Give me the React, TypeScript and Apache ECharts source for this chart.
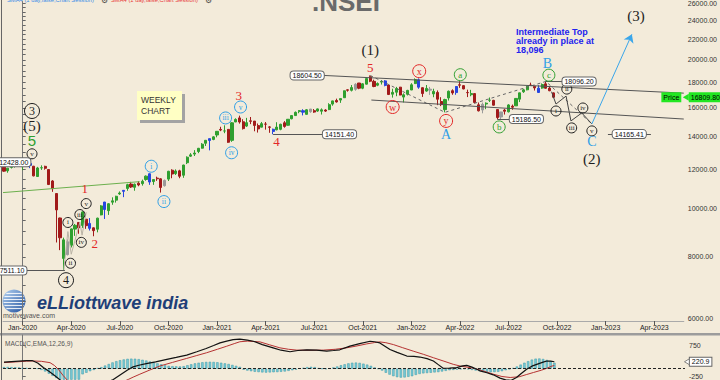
import React, { useEffect, useRef } from "react";
import * as echarts from "echarts";

// ---------------- DATA ----------------
// Weekly NIFTY candles. Row 0 = week of 2 Dec 2019 (week index -5; week 0 = 6 Jan 2020)
const FIRST_WEEK = -5;
// [open, close, low, high]
const candles: number[][] = [
  [12137, 11922, 11888, 12159], [11939, 12087, 11832, 12098], [12131, 12272, 12067, 12294], [12235, 12246, 12118, 12287],
  [12274, 12226, 12178, 12293], [12170, 12257, 11975, 12311], [12296, 12352, 12213, 12389], [12357, 12248, 12087, 12430],
  [12197, 11662, 11633, 12216], [11627, 12098, 11614, 12160], [12102, 12113, 11990, 12247], [12190, 12080, 12003, 12225],
  [12012, 11202, 11175, 12012], [11388, 10989, 10827, 11433], [10742, 9955, 8555, 10751], [9587, 8745, 8255, 9602],
  [7945, 8660, 7511, 8749], [8584, 8084, 8055, 8679], [8446, 9112, 8360, 9131], [9103, 9267, 8821, 9324],
  [9390, 9154, 8909, 9390], [9259, 9860, 9155, 9889], [9533, 9251, 9116, 9533], [9348, 9136, 9044, 9584],
  [9158, 9039, 8806, 9178], [9099, 9580, 8968, 9599], [9726, 10142, 9706, 10180], [10326, 9972, 9544, 10329],
  [9919, 10244, 9726, 10272], [10319, 10383, 10194, 10553], [10417, 10607, 10299, 10631], [10723, 10768, 10677, 10847],
  [10851, 10902, 10562, 10918], [10999, 11194, 10880, 11240], [11225, 11073, 11026, 11341], [11058, 11214, 10882, 11256],
  [11270, 11178, 11112, 11373], [11248, 11372, 11144, 11460], [11466, 11647, 11401, 11687], [11777, 11333, 11185, 11794],
  [11359, 11464, 11185, 11493], [11540, 11505, 11394, 11618], [11503, 11050, 10790, 11535], [11140, 11417, 11095, 11465],
  [11487, 11914, 11386, 11938], [11973, 11762, 11535, 12025], [11785, 11930, 11711, 12018], [11937, 11642, 11535, 11998],
  [11697, 12264, 11557, 12280], [12399, 12720, 12321, 12770], [12780, 12859, 12731, 12963], [12906, 12969, 12790, 13145],
  [13062, 13258, 12962, 13280], [13264, 13514, 13241, 13579], [13571, 13761, 13402, 13773], [13866, 13749, 13131, 13865],
  [13815, 13982, 13765, 14024], [14104, 14347, 13954, 14367], [14474, 14433, 14357, 14653], [14371, 14372, 14222, 14754],
  [14477, 13635, 13597, 14492], [13758, 14924, 13662, 14976], [14983, 15163, 14977, 15243], [15271, 14982, 14868, 15432],
  [14999, 14529, 14467, 15176], [14702, 14938, 14636, 15273], [15064, 15031, 14835, 15336], [15048, 14744, 14350, 15052],
  [14737, 14507, 14264, 14878], [14628, 14867, 14617, 14984], [14837, 14835, 14459, 14980], [14644, 14618, 14248, 14697],
  [14484, 14341, 14151, 14529], [14449, 14631, 14415, 14968], [14482, 14823, 14417, 14864], [14928, 14678, 14591, 15044],
  [14756, 15175, 14725, 15190], [15211, 15436, 15171, 15469], [15437, 15670, 15437, 15733], [15725, 15799, 15607, 15835],
  [15791, 15683, 15450, 15901], [15525, 15860, 15505, 15915], [15915, 15722, 15636, 15915], [15793, 15690, 15635, 15915],
  [15766, 15924, 15707, 15952], [15755, 15856, 15513, 15962], [15842, 15763, 15705, 15899], [15874, 16238, 15834, 16349],
  [16286, 16529, 16163, 16543], [16563, 16451, 16395, 16702], [16592, 16705, 16376, 16722], [16775, 17324, 16764, 17340],
  [17399, 17369, 17254, 17437], [17363, 17585, 17269, 17793], [17443, 17853, 17327, 17947], [17962, 17532, 17452, 17962],
  [17531, 17895, 17452, 17948], [17867, 18338, 17839, 18350], [18500, 18115, 18033, 18604], [18100, 17672, 17613, 18241],
  [17783, 17917, 17698, 18012], [18041, 18102, 17836, 18210], [18141, 17765, 17688, 18210], [17796, 17027, 16983, 17806],
  [17052, 17197, 16782, 17490], [17209, 17512, 16891, 17640], [17619, 16985, 16966, 17640], [16824, 17004, 16410, 17118],
  [17046, 17354, 16949, 17400], [17387, 17812, 17383, 17944], [17913, 18256, 17879, 18351], [18235, 17617, 17485, 18350],
  [17575, 17102, 16836, 17599], [17301, 17516, 17244, 17794], [17456, 17375, 16993, 17640], [17076, 17276, 16810, 17490],
  [17192, 16659, 16203, 17352], [16481, 16245, 16133, 16815], [15867, 16630, 15671, 16694], [16757, 17287, 16556, 17344],
  [17329, 17153, 17006, 17442], [17181, 17670, 17006, 17703], [17809, 17784, 17559, 18114], [17741, 17476, 17442, 17779],
  [17183, 17172, 16824, 17414], [17009, 17102, 16888, 17400], [17097, 16411, 16341, 17132], [16227, 15782, 15735, 16404],
  [15845, 16266, 15601, 16400], [16290, 16352, 15903, 16415], [16578, 16584, 16444, 16793], [16570, 16202, 16172, 16610],
  [15877, 15294, 15183, 15886], [15335, 15699, 15191, 15707], [15839, 15752, 15511, 15927], [15710, 16220, 15662, 16275],
  [16127, 16049, 15858, 16248], [16151, 16719, 16143, 16752], [16662, 17158, 16438, 17172], [17244, 17398, 17155, 17490],
  [17402, 17698, 17360, 17719], [17797, 17758, 17710, 17992], [17682, 17559, 17345, 17685], [17188, 17539, 17166, 17777],
  [17546, 17833, 17488, 17925], [17890, 17531, 17497, 18096], [17540, 17327, 17291, 17722], [17156, 16810, 16748, 17196],
];
const blueWeeks = [2, 18, 22, 27, 34, 50, 67, 75, 97, 106, 116, 138];
const greyWeeks = [12, 38, 77, 89, 109, 123, 128];

const dateTickWeeks = [0, 13, 26, 39, 52, 65, 78, 91, 104, 117, 130, 143, 156, 169];
const dateTickLabels = ["Jan-2020", "Apr-2020", "Jul-2020", "Oct-2020", "Jan-2021", "Apr-2021", "Jul-2021",
  "Oct-2021", "Jan-2022", "Apr-2022", "Jul-2022", "Oct-2022", "Jan-2023", "Apr-2023"];
const priceLabelValues = [6000, 8000, 10000, 12000, 14000, 16000, 18000, 20000, 22000, 24000, 26000];
const lastPrice = 16809.8;

// MACD(C,EMA,12,26,9): [week, value]
const macdLine: number[][] = [
  [-5, 210], [-3, 225], [-1, 240], [1, 255], [2.5, 262], [4, 180], [5.5, 35], [7, -80], [8.6, -227], [10, -360],
  [12, -700], [14, -850], [16, -800], [18, -720], [20, -600], [22, -470], [24.2, -344], [26, -200], [28, -40],
  [29.5, 57], [31, 110], [33, 161], [35.5, 220], [38.5, 297], [41, 360], [43.8, 435], [46.5, 540], [49, 644],
  [51, 740], [52.7, 823], [54.5, 880], [56.2, 928], [58, 945], [60, 910], [61.6, 877], [64, 770], [66.9, 666],
  [69, 590], [71.4, 540], [73.5, 580], [75.9, 603], [78.5, 590], [81.2, 561], [83, 580], [84.7, 603], [87.4, 719],
  [90, 800], [92.8, 877], [94, 860], [95.4, 823], [98.1, 612], [100, 520], [102.6, 404], [104.5, 390], [106.1, 372],
  [108, 320], [109.7, 246], [111, 130], [112.3, 13], [114, 20], [115.9, 35], [117.5, 90], [118.6, 107], [120, 50],
  [121.3, -19], [122.1, -69], [124, -130], [125.7, -196], [127.5, -303], [129, -360], [130.5, -370], [131.9, -281],
  [133, -170], [134.6, -19], [136, 80], [137.3, 139], [139, 210], [140, 246], [141, 240], [142, 220.9],
];
const signalLine: number[][] = [
  [-5, 195], [-2, 215], [1, 240], [2.8, 246], [5, 235], [7.3, 192], [8.5, 100], [9.5, -19], [10.8, -218], [12, -380],
  [14, -520], [16, -620], [18, -680], [20, -680], [22, -640], [24, -560], [26, -460], [28.2, -344], [29.5, -270],
  [31.3, -176], [34, -40], [36.7, 87], [40, 200], [43.8, 328], [46.5, 420], [49.1, 508], [52, 620], [54.5, 718],
  [56.5, 800], [58, 860], [60, 880], [63.4, 855], [66, 760], [68.7, 666], [71, 620], [73.2, 593], [77, 590],
  [80.3, 593], [83.5, 620], [86.5, 666], [89, 720], [91.9, 792], [94, 835], [95.4, 855], [97, 830], [99, 770],
  [101.5, 670], [104.3, 561], [107, 460], [109.7, 350], [112.5, 240], [115, 139], [117, 80], [119.5, 35], [121, -5],
  [122.1, -40], [124, -110], [125.7, -176], [128, -250], [130.2, -281], [132.6, -259], [134.5, -190], [136.4, -123],
  [138.5, -50], [140, 13], [141.3, 80], [142, 100],
];
// histogram, one value per week from week -5
const macdHist = [
  50, 55, 50, 45, 40,
  30, 25, 20, 15, 5,
  -40, -90, -160, -230, -300,
  -380, -420, -450, -420, -380, -350,
  -180, -130, -80, -40,
  20, 50, 100, 150, 200, 240, 270, 295, 315, 320, 318, 305, 285, 260, 230, 200, 170, 140,
  110, 90, 80, 75, 70, 80, 110,
  140, 170, 190, 205, 215, 220, 215, 205, 190, 170, 150, 120, 90, 60,
  -30, -60, -80, -100, -110, -120, -125, -120, -115, -110, -100, -90, -70, -50, -30,
  10, 30, 50, 60, 50,
  20, 0, -10, 10, 40,
  70, 110, 140, 170, 190, 195, 185, 160, 130, 90,
  40, 0,
  -60, -130, -190, -240, -270, -285, -280, -260, -240, -200, -170, -150, -140, -130, -120,
  -110, -90, -70, -50, -40, -30, -20, -10, -20, -40, -60, -80,
  -100, -110, -115, -110, -100, -80, -50, -20,
  20, 70, 130, 190, 240, 290, 320, 325, 310, 280, 240, 190,
];
const macdLabelValues = [750, -250];
const macdLast = 220.9;

// Elliott wave annotations: [week, price, text]
type Ann = [number, number, string];
const circledPrimary: Ann[] = [[2.5, 15770, "3"], [11.6, 7178, "4"]];
const circledBlack: Ann[] = [[2.5, 12922, "v"], [12.1, 9389, "i"], [12.8, 7766, "ii"], [15.3, 9742, "iii"],
  [15.7, 8559, "iv"], [17.0, 10252, "v"], [142.7, 15770, "i"], [145.6, 17461, "ii"], [146.9, 14576, "iii"],
  [149.9, 15991, "iv"], [152.3, 14375, "v"]];
const circledCyan: Ann[] = [[34.4, 12196, "i"], [37.8, 10348, "ii"], [54.3, 15268, "iii"], [55.9, 12985, "iv"], [58.3, 16065, "v"]];
const circledRed: Ann[] = [[99.0, 16065, "w"], [106.1, 18977, "x"], [113.3, 15057, "y"]];
const circledGreen: Ann[] = [[117.1, 18670, "a"], [127.5, 14643, "b"], [140.8, 18630, "c"]];
const textBlack: Ann[] = [[2.5, 14712, "(5)"], [93.0, 20916, "(1)"], [152.3, 12627, "(2)"], [164.1, 24482, "(3)"]];
const textRed: Ann[] = [[16.6, 10990, "1"], [19.3, 8520, "2"], [57.8, 16983, "3"], [67.9, 13661, "4"], [93.0, 19332, "5"]];
const textCyan: Ann[] = [[113.3, 14113, "A"], [140.4, 19695, "B"], [152.3, 13661, "C"]];
const textGreen: Ann[] = [[2.5, 13725, "5"]];

// price level boxes: [week, price, text, side]
const levelBoxes: [number, number, string, string][] = [
  [2.2, 12430, "12428.00", "left"],
  [1.15, 7511.1, "7511.10", "left"],
  [80.2, 14151.4, "14151.40", "right"],
  [80.7, 18604.5, "18604.50", "left"],
  [130.2, 15186.5, "15186.50", "right"],
  [144.3, 18096.2, "18096.20", "right"],
  [162.3, 14165.41, "14165.41", "inside"],
];
// trend / channel lines: [[week, price], [week, price]]
const solidSegments: number[][][] = [
  [[1.15, 7511.1], [11.3, 7511.1]],
  [[67, 14151.4], [80.2, 14151.4]],
  [[80.7, 18604.5], [176.89, 17134]],
  [[93.3, 16594], [176.89, 15190]],
  [[127, 15186.5], [130.2, 15186.5]],
  [[140, 18096.2], [144.3, 18096.2]],
  [[156.6, 14165.41], [168.1, 14165.41]],
];
// minor wave structure near the 2020 low (thin grey)
const minorWavePath: number[][] = [[11, 7511], [12.1, 9000], [13, 8100], [15.3, 9400], [15.9, 8850], [17.0, 9850]];
const projectionPath: number[][] = [[141.5, 17250], [142.7, 16289], [145.4, 16902], [146.7, 15057], [149.6, 15626], [152.3, 14849]];
const dashedPath: number[][] = [[93, 18604.5], [113, 15671], [140, 18096.2], [152.3, 14849]];
const greenTrend: number[][] = [[-5.26, 10789], [31.3, 11352]];
const cyanArrow: number[][] = [[152.3, 14849], [163.0, 22523]];

// ---------------- STYLE ----------------
const BG = "#F3EBDA";
const SERIF = "Liberation Serif";
const SANS = "Liberation Sans";
const UP = "#2f9f2f";
const DOWN = "#a11a1a";
const BLUE = "#2746e0";
const GREY = "#9a9a9a";
const CYAN = "#2f9fe6";
const RED = "#e32727";
const GREEN = "#2f9f2f";
const BLACK = "#1e1e1e";
const X_MIN = -5.262;
const X_MAX = 176.9;
const Y_MIN = 8.689;
const Y_MAX = 10.1751;
const ln = Math.log;

function buildOption(): any {
  const candleData = candles.map((c, i) => {
    const w = FIRST_WEEK + i;
    const item: any = { value: [w, ln(c[0]), ln(c[1]), ln(c[2]), ln(c[3])] };
    const col = blueWeeks.includes(w) ? BLUE : greyWeeks.includes(w) ? GREY : null;
    if (col) item.itemStyle = { color: col, color0: col, borderColor: col, borderColor0: col };
    return item;
  });

  const minorTicks: number[] = [];
  for (let v = 6000; v <= 26000; v += 500) minorTicks.push(ln(v));

  const circle = (a: Ann, color: string, r: number, fs: number) => ({
    coord: [a[0], ln(a[1])],
    symbol: "circle",
    symbolSize: r * 2,
    itemStyle: { color: "rgba(0,0,0,0)", borderColor: color, borderWidth: 1 },
    label: { show: true, position: "inside", formatter: a[2], color, fontSize: fs, fontFamily: SERIF },
  });
  const txt = (a: Ann, color: string, fs: number, family = SERIF) => ({
    coord: [a[0], ln(a[1])],
    symbol: "circle",
    symbolSize: 1,
    itemStyle: { color: "rgba(0,0,0,0)" },
    label: { show: true, position: "inside", formatter: a[2], color, fontSize: fs, fontFamily: family, lineHeight: fs },
  });
  const box = (b: [number, number, string, string]) => ({
    coord: [b[0], ln(b[1])],
    symbol: "circle",
    symbolSize: 1,
    itemStyle: { color: "rgba(0,0,0,0)" },
    label: {
      show: true, position: b[3], distance: 0, formatter: b[2], color: "#111", fontSize: 7, fontFamily: SANS,
      backgroundColor: "#ffffff", borderColor: "#666", borderWidth: 1, borderRadius: 3, padding: [1, 2, 0, 2],
    },
  });

  const markPoints = [
    ...circledPrimary.map((a) => circle(a, BLACK, 7.5, 12)),
    ...circledBlack.map((a) => circle(a, BLACK, 5, 7)),
    ...circledCyan.map((a) => circle(a, CYAN, 6, 7.5)),
    ...circledRed.map((a) => circle(a, RED, 6.5, 10)),
    ...circledGreen.map((a) => circle(a, GREEN, 6, 9)),
    ...textBlack.map((a) => txt(a, BLACK, 15)),
    ...textRed.map((a) => txt(a, RED, 13)),
    ...textCyan.map((a) => txt(a, CYAN, 14)),
    ...textGreen.map((a) => txt(a, GREEN, 15, SANS)),
    ...levelBoxes.map(box),
    {
      coord: [X_MAX - 0.001, ln(lastPrice)],
      symbol: "triangle", symbolSize: [7, 6], symbolRotate: 90, symbolOffset: [2, 0],
      itemStyle: { color: "#22e622" },
      label: { show: true, position: "right", distance: 0, formatter: lastPrice.toFixed(2), color: "#000", fontSize: 7, fontFamily: SANS,
        backgroundColor: "#22e622", padding: [2, 2, 1, 2] },
    },
    {
      coord: [X_MAX - 0.001, ln(lastPrice)],
      symbol: "circle", symbolSize: 1, itemStyle: { color: "rgba(0,0,0,0)" },
      label: { show: true, position: "left", distance: 2, formatter: "Price", color: "#000", fontSize: 7, fontFamily: SANS,
        backgroundColor: "#22e622", padding: [2, 2, 1, 2] },
    },
  ];

  const segLines = solidSegments.map((s) => [
    { coord: [s[0][0], ln(s[0][1])], lineStyle: { color: "#555", width: 1, type: "solid" } },
    { coord: [s[1][0], ln(s[1][1])] },
  ]);

  const toLn = (pts: number[][]) => pts.map((p) => [p[0], ln(p[1])]);

  return {
    animation: false,
    backgroundColor: BG,
    grid: [
      { left: 3, right: 35, top: 0, height: 321 },
      { left: 3, right: 35, top: 335, height: 45 },
    ],
    xAxis: [
      {
        type: "value", gridIndex: 0, min: X_MIN, max: X_MAX,
        axisLine: { show: true, lineStyle: { color: "#aaa", width: 1 } },
        axisTick: { show: true, customValues: dateTickWeeks, length: 4, lineStyle: { color: "#555" } },
        axisLabel: {
          customValues: dateTickWeeks, margin: 3, fontSize: 7, color: "#222", fontFamily: SANS,
          formatter: (v: number) => {
            const i = dateTickWeeks.indexOf(Math.round(v));
            return i >= 0 ? dateTickLabels[i] : "";
          },
        },
        splitLine: { show: false },
      },
      {
        type: "value", gridIndex: 1, min: X_MIN, max: X_MAX,
        axisLine: { show: false }, axisTick: { show: false }, axisLabel: { show: false }, splitLine: { show: false },
      },
    ],
    yAxis: [
      {
        type: "value", gridIndex: 0, position: "right", min: Y_MIN, max: Y_MAX,
        axisLine: { show: true, lineStyle: { color: "#777" } },
        axisTick: { show: true, customValues: minorTicks, length: 3, lineStyle: { color: "#666" } },
        axisLabel: {
          customValues: priceLabelValues.map(ln), margin: 4, fontSize: 7, color: "#333", fontFamily: SANS,
          formatter: (v: number) => Math.round(Math.exp(v)).toFixed(2),
        },
        splitLine: { show: false },
      },
      {
        type: "value", gridIndex: 1, position: "right", min: -344, max: 1076,
        axisLine: { show: true, lineStyle: { color: "#777" } },
        axisTick: { show: true, customValues: macdLabelValues, length: 3, lineStyle: { color: "#666" } },
        axisLabel: { customValues: macdLabelValues, margin: 4, fontSize: 7, color: "#333", fontFamily: SANS },
        splitLine: { show: false },
      },
    ],
    series: [
      {
        type: "line", xAxisIndex: 0, yAxisIndex: 0, data: toLn(greenTrend), showSymbol: false, silent: true,
        lineStyle: { color: "#6cb04e", width: 1 },
      },
      {
        type: "line", xAxisIndex: 0, yAxisIndex: 0, data: toLn(minorWavePath), showSymbol: false, silent: true,
        lineStyle: { color: "#b9b2a4", width: 1 },
      },
      {
        type: "line", xAxisIndex: 0, yAxisIndex: 0, data: toLn(dashedPath), showSymbol: false, silent: true,
        lineStyle: { color: "#666", width: 1, type: [3, 3] },
      },
      {
        type: "line", xAxisIndex: 0, yAxisIndex: 0, data: toLn(projectionPath), showSymbol: false, silent: true,
        lineStyle: { color: "#444", width: 1 },
      },
      {
        type: "candlestick", xAxisIndex: 0, yAxisIndex: 0, barWidth: 2.6, data: candleData,
        itemStyle: { color: UP, color0: DOWN, borderColor: UP, borderColor0: DOWN, borderWidth: 1 },
      },
      {
        type: "line", xAxisIndex: 0, yAxisIndex: 0, data: [], silent: true,
        markLine: { silent: true, symbol: ["none", "none"], label: { show: false }, data: segLines },
      },
      {
        type: "line", xAxisIndex: 0, yAxisIndex: 0, data: [], silent: true,
        markLine: {
          silent: true, symbol: ["none", "arrow"], symbolSize: 8, label: { show: false },
          lineStyle: { color: "#3aa6ea", width: 1, type: "solid" },
          data: [[{ coord: [cyanArrow[0][0], ln(cyanArrow[0][1])] }, { coord: [cyanArrow[1][0], ln(cyanArrow[1][1])] }]],
        },
      },
      {
        type: "line", xAxisIndex: 0, yAxisIndex: 0, data: [], silent: true,
        markPoint: { silent: true, data: markPoints },
      },
      // MACD pane
      {
        type: "bar", xAxisIndex: 1, yAxisIndex: 1, barWidth: 2.4,
        data: macdHist.map((v, i) => [FIRST_WEEK + i, v]),
        itemStyle: { color: "#78cad6", borderColor: "#3a98a8", borderWidth: 0.5 },
        markLine: {
          silent: true, symbol: ["none", "none"], label: { show: false },
          lineStyle: { color: "#222", width: 1, type: [3, 2] },
          data: [{ yAxis: 0 }],
        },
      },
      {
        type: "line", xAxisIndex: 1, yAxisIndex: 1, data: signalLine, showSymbol: false, silent: true,
        lineStyle: { color: "#b53232", width: 1 },
      },
      {
        type: "line", xAxisIndex: 1, yAxisIndex: 1, data: macdLine, showSymbol: false, silent: true,
        lineStyle: { color: "#111", width: 1.2 },
        markPoint: {
          silent: true,
          data: [{
            coord: [X_MAX - 0.001, macdLast],
            symbol: "triangle", symbolSize: [6, 5], symbolRotate: 90, symbolOffset: [2, 0],
            itemStyle: { color: "#fff", borderColor: "#666", borderWidth: 0.8 },
            label: { show: true, position: "right", distance: 0, formatter: String(macdLast), color: "#111", fontSize: 7, fontFamily: SANS,
              backgroundColor: "#fff", borderColor: "#666", borderWidth: 1, padding: [1, 2, 0, 2] },
          }],
        },
      },
    ],
    graphic: [
      { type: "rect", shape: { x: 0, y: 333, width: 720, height: 2.5 }, style: { fill: "#9c9c9c" }, silent: true },
      { type: "line", shape: { x1: 1.5, y1: 0, x2: 1.5, y2: 380 }, style: { stroke: "#666", lineWidth: 1 }, silent: true },
      { type: "text", x: 312, y: 15, style: { text: ".NSEI", fontSize: 26, fontWeight: "bold", fill: "#6a6a6a", fontFamily: SANS, verticalAlign: "bottom" }, silent: true },
      { type: "text", x: 7, y: 0, style: { text: "SMA4 (1 day,false,Chart Session)", fontSize: 5.8, fill: "#3a8be8", fontFamily: SANS, verticalAlign: "middle" }, silent: true },
      { type: "text", x: 101, y: 0, style: { text: "\u2699", fontSize: 8, fill: "#333", verticalAlign: "middle" }, silent: true },
      { type: "text", x: 111, y: 0, style: { text: "SMA4 (1 day,false,Chart Session)", fontSize: 5.8, fill: "#e83a3a", fontFamily: SANS, verticalAlign: "middle" }, silent: true },
      { type: "text", x: 205, y: 0, style: { text: "\u2699", fontSize: 8, fill: "#333", verticalAlign: "middle" }, silent: true },
      // weekly chart note
      { type: "rect", shape: { x: 140, y: 94, width: 45, height: 29 }, style: { fill: "#a3a3a3" }, silent: true },
      { type: "rect", shape: { x: 137, y: 91, width: 45, height: 29 }, style: { fill: "#FFFFC4" }, silent: true },
      { type: "text", x: 141, y: 100, style: { text: "WEEKLY", fontSize: 8.5, fill: "#333", fontFamily: SANS, verticalAlign: "middle" }, silent: true },
      { type: "text", x: 141, y: 111, style: { text: "CHART", fontSize: 8.5, fill: "#333", fontFamily: SANS, verticalAlign: "middle" }, silent: true },
      // intermediate top note
      { type: "text", x: 516, y: 32, style: { text: "Intermediate Top", fontSize: 9, fontWeight: "bold", fill: "#2222ee", fontFamily: SANS, verticalAlign: "middle" }, silent: true },
      { type: "text", x: 516, y: 41, style: { text: "already in place at", fontSize: 9, fontWeight: "bold", fill: "#2222ee", fontFamily: SANS, verticalAlign: "middle" }, silent: true },
      { type: "text", x: 516, y: 50, style: { text: "18,096", fontSize: 9, fontWeight: "bold", fill: "#2222ee", fontFamily: SANS, verticalAlign: "middle" }, silent: true },
      // logo
      {
        type: "circle", shape: { cx: 14, cy: 301, r: 11.5 }, silent: true,
        style: { fill: { type: "linear", x: 0, y: 0, x2: 1, y2: 1, colorStops: [{ offset: 0, color: "#b4d3f2" }, { offset: 1, color: "#1b4c9c" }] } },
      },
      ...[-7.5, -4.5, -1.5, 1.5, 4.5, 7.5].map((d) => {
        const half = Math.sqrt(Math.max(0, 11.5 * 11.5 - d * d));
        return { type: "rect", shape: { x: 14 - half + 1, y: 301 + d - 0.6, width: 2 * half - 2, height: 1.2 }, style: { fill: "#ffffff", opacity: 0.85 }, silent: true };
      }),
      { type: "text", x: 37, y: 302, scaleX: 0.95, style: { text: "eLLiottwave india", fontSize: 19, fontWeight: "bold", fontStyle: "italic", fill: "#1f3f78", fontFamily: SANS, verticalAlign: "middle" }, silent: true },
      { type: "text", x: 3, y: 315, style: { text: "motivewave.com", fontSize: 7, fill: "#555", fontFamily: SANS, verticalAlign: "middle" }, silent: true },
      { type: "text", x: 5, y: 343, style: { text: "MACD(C,EMA,12,26,9)", fontSize: 6.5, fill: "#555", fontFamily: SANS, verticalAlign: "middle" }, silent: true },
    ],
  };
}

export default function App() {
  const ref = useRef<HTMLDivElement>(null);
  useEffect(() => {
    document.body.style.margin = "0";
    const chart = echarts.init(ref.current!, null, { renderer: "svg" });
    chart.setOption(buildOption());
    return () => chart.dispose();
  }, []);
  return <div ref={ref} style={{ width: 720, height: 380 }} />;
}
